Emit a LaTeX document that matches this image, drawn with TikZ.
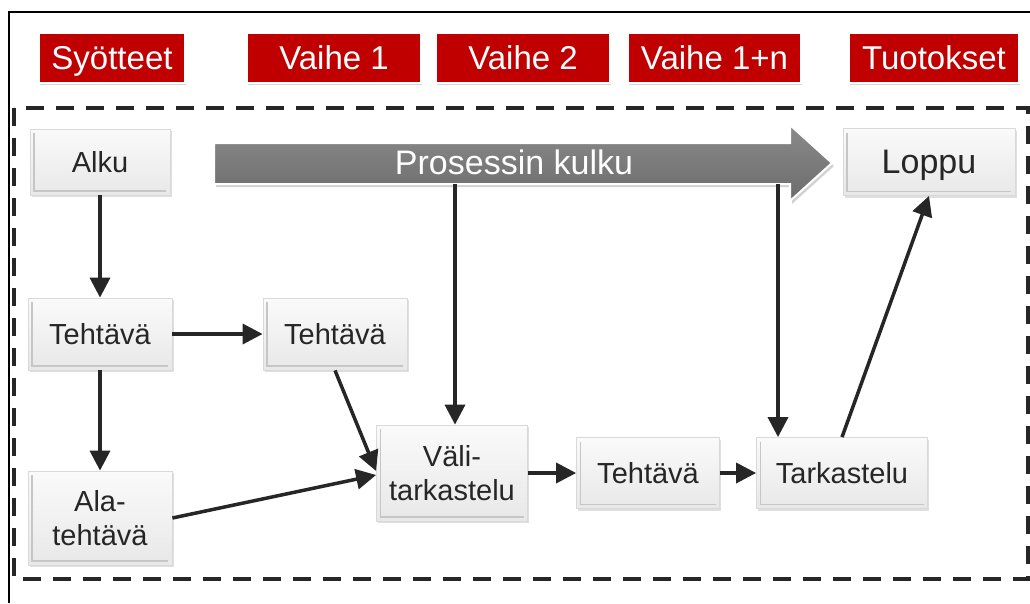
\documentclass[tikz,border=0pt]{standalone}
\usepackage{fontspec}
\setmainfont{Liberation Sans}
\usetikzlibrary{arrows.meta,shadows,calc}
\definecolor{hdred}{RGB}{192,0,0}
\definecolor{ink}{RGB}{38,38,38}
\definecolor{boxtop}{RGB}{250,250,250}
\definecolor{boxbot}{RGB}{232,232,232}
\definecolor{arrtop}{RGB}{138,138,138}
\definecolor{arrbot}{RGB}{108,108,108}
\begin{document}
\begin{tikzpicture}[x=1pt,y=-1pt,
  hdr/.style={fill=hdred, draw=white, line width=1.5pt, text=white,
    font=\fontsize{33}{38}\selectfont, inner sep=0pt, minimum height=50pt,
    text height=24pt, text depth=1pt,
    drop shadow={opacity=0.3,shadow xshift=1pt,shadow yshift=-2pt}},
  bx/.style={draw=gray!30, line width=0.8pt, top color=boxtop, bottom color=boxbot,
    text=ink, font=\fontsize{29}{34}\selectfont, align=center, inner sep=0pt,
    drop shadow={opacity=0.25,shadow xshift=1.5pt,shadow yshift=-2pt},
    path picture={\draw[gray!45, line width=1.2pt]
      ([xshift=4pt,yshift=-4pt]path picture bounding box.north west) --
      ([xshift=4pt,yshift=4pt]path picture bounding box.south west) --
      ([xshift=-4pt,yshift=4pt]path picture bounding box.south east);}},
  one/.style={text height=#1, text depth=1pt},
  conn/.style={draw=ink, line width=3.5pt, -{Triangle[length=20pt,width=20pt]}},
  bigarrow/.style={draw=white, line width=2pt, top color=arrtop, bottom color=arrbot,
    drop shadow={opacity=0.35,shadow xshift=2pt,shadow yshift=-3pt}}
]
\useasboundingbox (0,0) rectangle (1030,603);
\fill[white] (0,0) rectangle (1030,603);
% outer frame
\draw[line width=2pt, black] (9,603) -- (9,12) -- (1030,12);
% headers
\node[hdr, minimum width=146pt] (h1) at (112,58) {Syötteet};
\node[hdr, minimum width=174pt] (h2) at (334,58) {Vaihe 1};
\node[hdr, minimum width=174pt] (h3) at (523,58) {Vaihe 2};
\node[hdr, minimum width=173pt] (h4) at (714.5,58) {Vaihe 1+n};
\node[hdr, minimum width=170pt] (h5) at (934,58) {Tuotokset};
% dashed region
\draw[ink, line width=3.5pt, dash pattern=on 18pt off 12pt] (14,108) rectangle (1028,579);
% big process arrow
\path[bigarrow] (214,143) -- (790,143) -- (790,125) -- (832,163) -- (790,201) -- (790,184) -- (214,184) -- cycle;
\node[text=white, font=\fontsize{34}{38}\selectfont, inner sep=0pt, one=24.5pt] (flow) at (514,163) {Prosessin kulku};
\coordinate (c1) at (455,184);
\coordinate (c2) at (778,184);
% boxes
\node[bx, one=21pt, minimum width=140pt, minimum height=66pt] (alku) at (100,162) {Alku};
\node[bx, one=24.5pt, minimum width=172pt, minimum height=67pt, font=\fontsize{34}{38}\selectfont] (loppu) at (929,162) {Loppu};
\node[bx, one=21pt, minimum width=144pt, minimum height=72pt] (t1) at (100,334) {Tehtävä};
\node[bx, one=21pt, minimum width=144pt, minimum height=72pt] (t2) at (335,334) {Tehtävä};
\node[bx, minimum width=144pt, minimum height=94pt] (ala) at (100,518) {Ala-\\tehtävä};
\node[bx, minimum width=151pt, minimum height=96pt] (vali) at (452,473) {Väli-\\tarkastelu};
\node[bx, one=21pt, minimum width=143pt, minimum height=71pt] (t3) at (648,473) {Tehtävä};
\node[bx, one=21pt, minimum width=171pt, minimum height=71pt] (tark) at (842,473) {Tarkastelu};
% connectors
\draw[conn] (alku.south) -- (t1.north);
\draw[conn] (t1.east) -- (t2.west);
\draw[conn] (t1.south) -- (ala.north);
\draw[conn] (t2.south) -- ([yshift=2pt]vali.west);
\draw[conn] (ala.east) -- ([yshift=-2pt]vali.west);
\draw[conn] (c1) -- (c1 |- vali.north);
\draw[conn] (c2) -- (c2 |- tark.north);
\draw[conn] (vali.east) -- (t3.west);
\draw[conn] (t3.east) -- (tark.west);
\draw[conn] (tark.north) -- (loppu.south);
\end{tikzpicture}
\end{document}
